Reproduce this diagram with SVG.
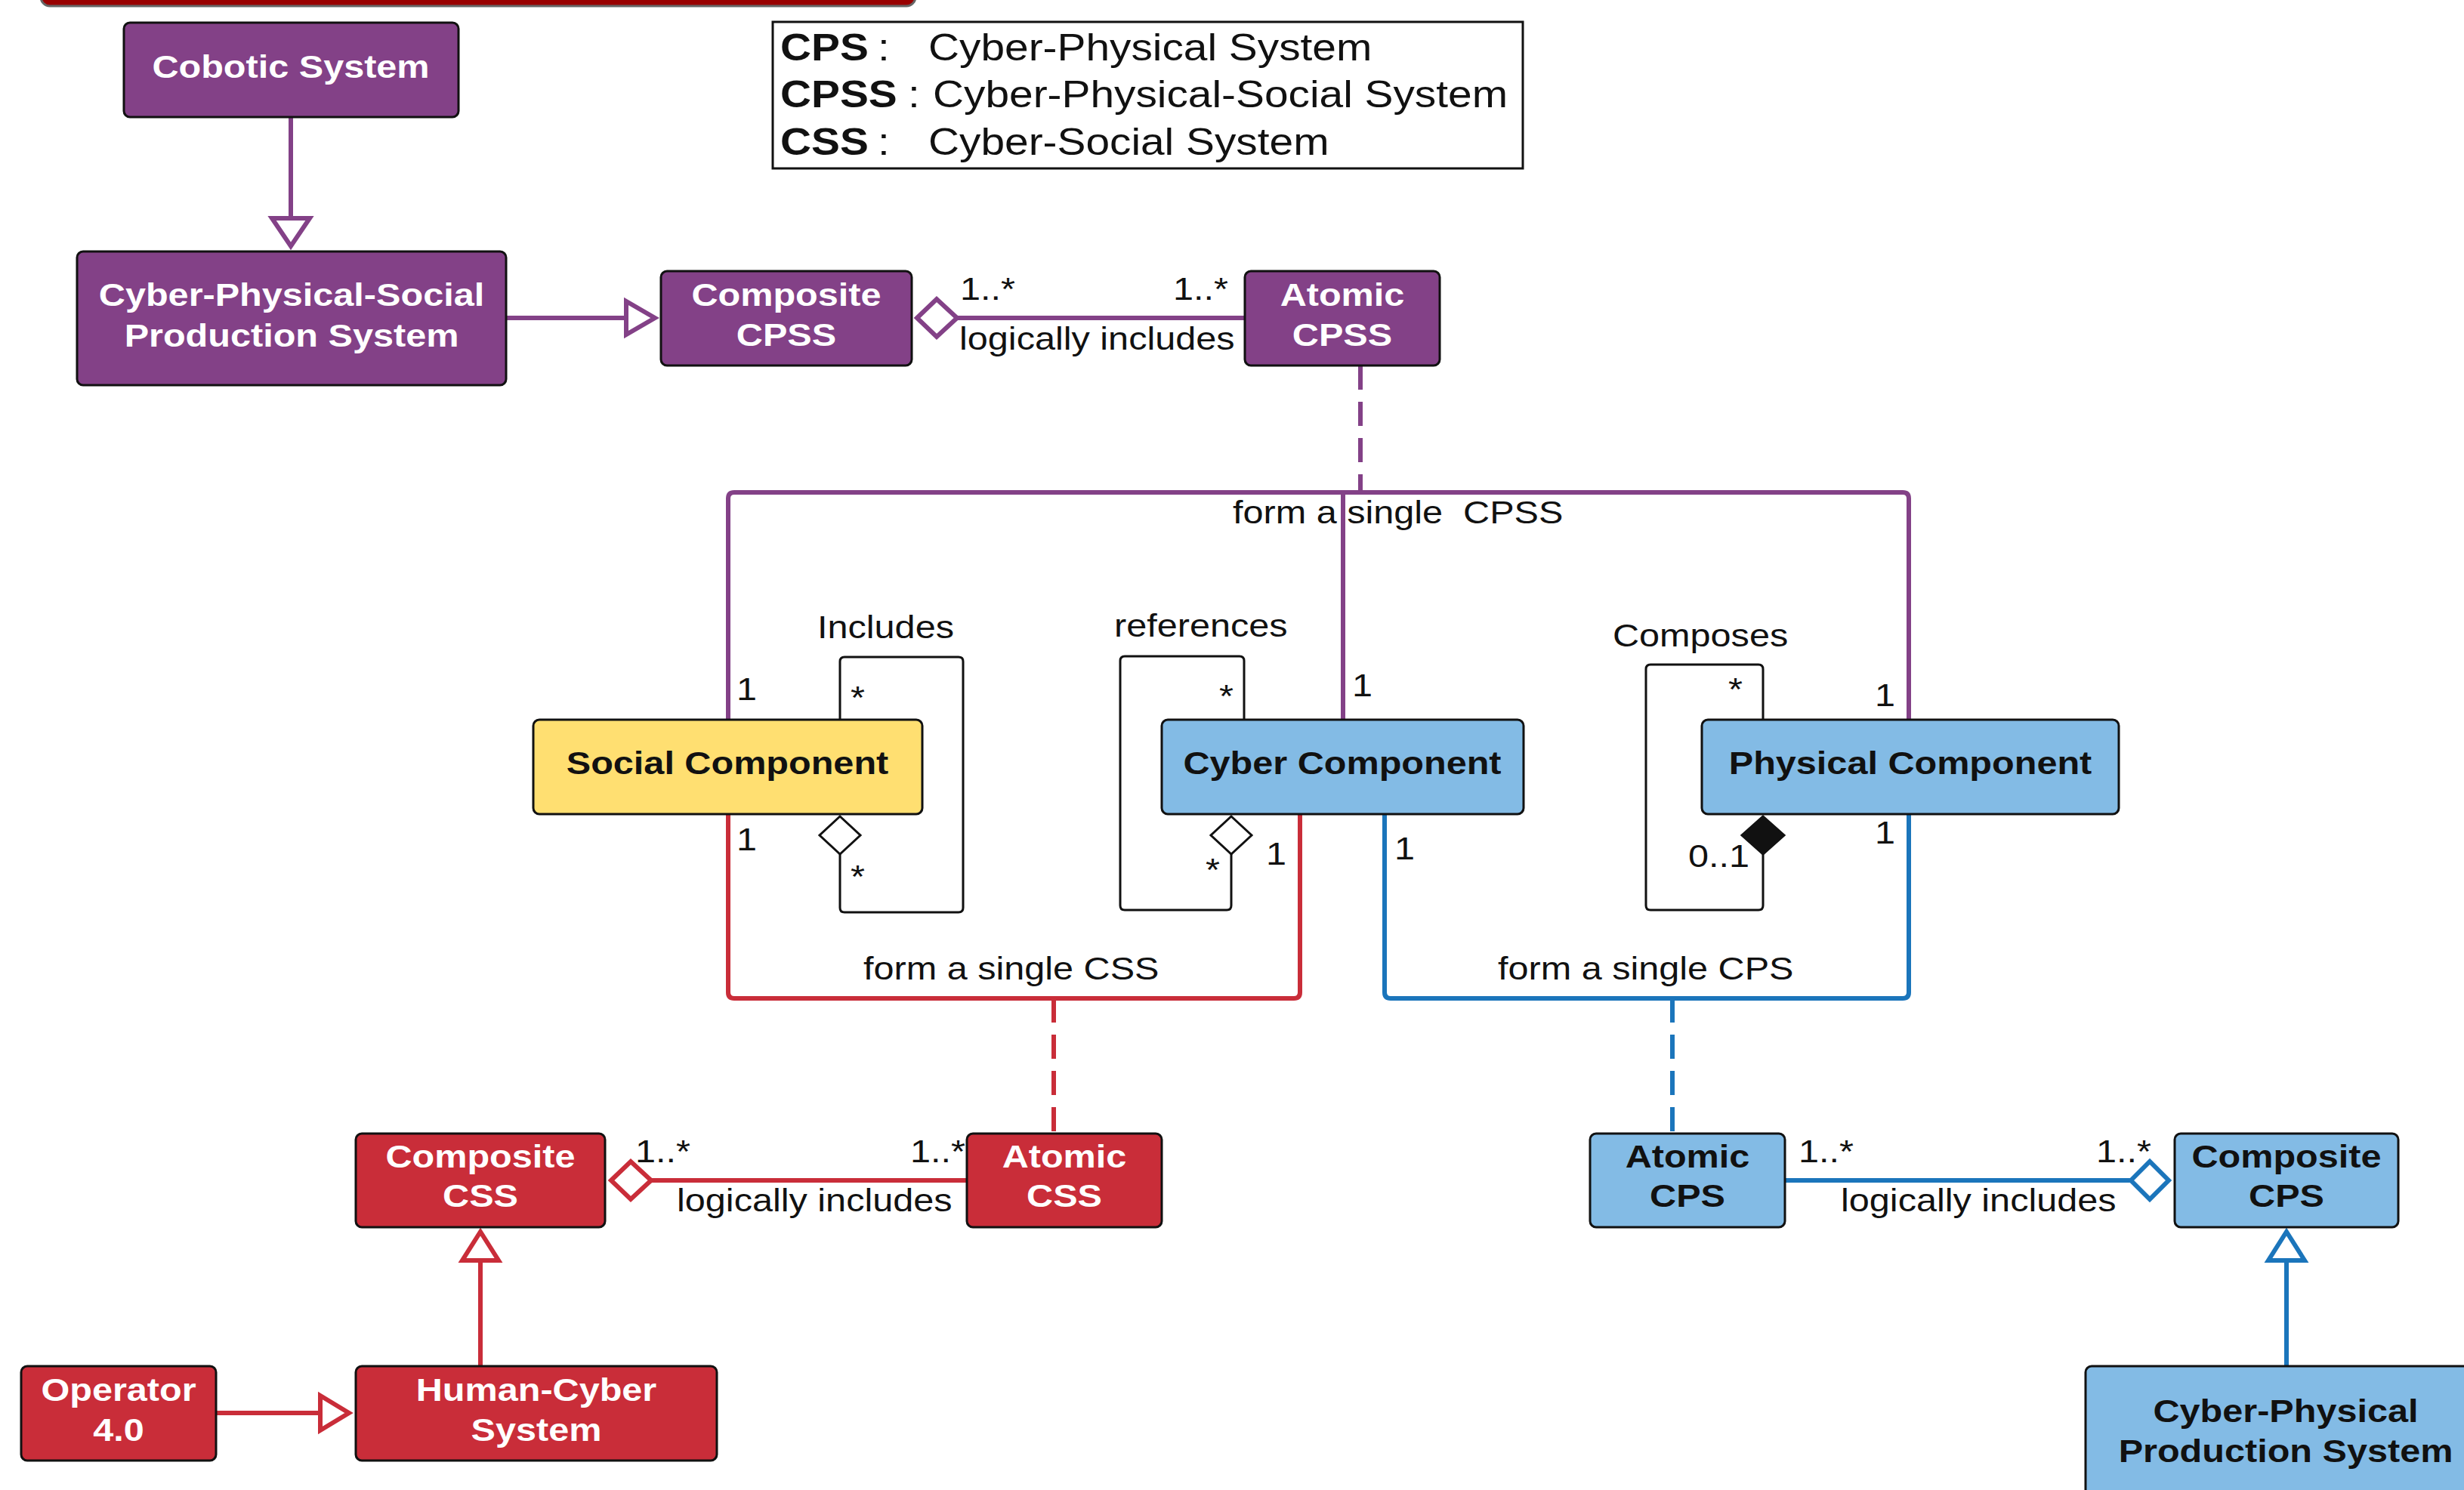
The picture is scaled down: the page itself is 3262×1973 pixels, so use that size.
<svg xmlns="http://www.w3.org/2000/svg" width="3262" height="1973" viewBox="0 0 3262 1973">
<style>
text{font-family:"Liberation Sans",Arial,sans-serif;font-size:42px;fill:#111}
.b{font-weight:bold;text-anchor:middle}
.w{fill:#fff}
.lg{font-size:49px}
.box{stroke:#111;stroke-width:3}
.pu{fill:#834187}
.rd{fill:#C92D39}
.bl{fill:#83BBE5}
.ye{fill:#FFDF71}
.lp{stroke:#834187;stroke-width:6;fill:none}
.lr{stroke:#C92D39;stroke-width:6;fill:none}
.lb{stroke:#1B75BB;stroke-width:6;fill:none}
.hp{stroke:#834187;stroke-width:6;fill:#fff}
.hr{stroke:#C92D39;stroke-width:6;fill:#fff}
.hb{stroke:#1B75BB;stroke-width:6;fill:#fff}
.dash{stroke-dasharray:32 16}
.loop{stroke:#111;stroke-width:3;fill:none}
.dw{stroke:#111;stroke-width:3;fill:#fff}
.dk{stroke:#111;stroke-width:3;fill:#111}
</style>
<rect x="0" y="0" width="3262" height="1973" fill="#fff"/>
<rect id="topbar" x="54" y="-40" width="1158" height="48" rx="12" fill="#990000" stroke="#666" stroke-width="3"/>

<g id="legend">
<rect x="1023" y="29" width="993" height="194" fill="#fff" stroke="#111" stroke-width="3"/>
<text class="lg" font-weight="bold" transform="translate(1033,80) scale(1.16,1)">CPS</text>
<text class="lg" transform="translate(1162,80) scale(1.16,1)">:</text>
<text class="lg" transform="translate(1229,80) scale(1.16,1)">Cyber-Physical System</text>
<text class="lg" font-weight="bold" transform="translate(1033,142) scale(1.16,1)">CPSS</text>
<text class="lg" transform="translate(1202,142) scale(1.16,1)">:</text>
<text class="lg" transform="translate(1235,142) scale(1.16,1)">Cyber-Physical-Social System</text>
<text class="lg" font-weight="bold" transform="translate(1033,205) scale(1.16,1)">CSS</text>
<text class="lg" transform="translate(1162,205) scale(1.16,1)">:</text>
<text class="lg" transform="translate(1229,205) scale(1.16,1)">Cyber-Social System</text>
</g>

<g id="connectors">
<line class="lp" x1="385" y1="155" x2="385" y2="289"/>
<polygon class="hp" points="360,289 410,289 385,326"/>
<line class="lp" x1="670" y1="421" x2="829" y2="421"/>
<polygon class="hp" points="829,399 829,443 867,421"/>
<line class="lp" x1="1267" y1="421" x2="1648" y2="421"/>
<polygon class="hp" points="1214,421 1240,396 1267,421 1240,446"/>
<line class="lp dash" x1="1801" y1="484" x2="1801" y2="652"/>
<path class="lp" d="M964 953 V660 Q964 652 972 652 H2519 Q2527 652 2527 660 V953"/>
<line class="lp" x1="1778" y1="652" x2="1778" y2="953"/>
<path class="lr" d="M964 1078 V1314 Q964 1322 972 1322 H1713 Q1721 1322 1721 1314 V1078"/>
<line class="lr dash" x1="1395" y1="1322" x2="1395" y2="1501"/>
<path class="lb" d="M1833 1078 V1314 Q1833 1322 1841 1322 H2519 Q2527 1322 2527 1314 V1078"/>
<line class="lb dash" x1="2214" y1="1322" x2="2214" y2="1501"/>
<line class="lr" x1="862" y1="1563" x2="1280" y2="1563"/>
<polygon class="hr" points="809,1563 835,1538 862,1563 835,1588"/>
<line class="lr" x1="636" y1="1809" x2="636" y2="1669"/>
<polygon class="hr" points="612,1669 660,1669 636,1631"/>
<line class="lr" x1="286" y1="1871" x2="424" y2="1871"/>
<polygon class="hr" points="424,1848 424,1894 462,1871"/>
<line class="lb" x1="2363" y1="1563" x2="2821" y2="1563"/>
<polygon class="hb" points="2821,1563 2846,1538 2871,1563 2846,1588"/>
<line class="lb" x1="3027" y1="1809" x2="3027" y2="1669"/>
<polygon class="hb" points="3003,1669 3051,1669 3027,1631"/>
<path class="loop" d="M1112 953 V876 Q1112 870 1118 870 H1269 Q1275 870 1275 876 V1202 Q1275 1208 1269 1208 H1118 Q1112 1208 1112 1202 V1131"/>
<polygon class="dw" points="1112,1081 1139,1106 1112,1131 1085,1106"/>
<path class="loop" d="M1647 953 V875 Q1647 869 1641 869 H1489 Q1483 869 1483 875 V1199 Q1483 1205 1489 1205 H1624 Q1630 1205 1630 1199 V1131"/>
<polygon class="dw" points="1630,1081 1657,1106 1630,1131 1603,1106"/>
<path class="loop" d="M2334 953 V886 Q2334 880 2328 880 H2185 Q2179 880 2179 886 V1199 Q2179 1205 2185 1205 H2328 Q2334 1205 2334 1199 V1131"/>
<polygon class="dk" points="2334,1081 2362,1106 2334,1131 2306,1106"/>
<text transform="translate(1271,397) scale(1.157,1)">1..*</text>
<text transform="translate(1553,397) scale(1.157,1)">1..*</text>
<text transform="translate(1270,463) scale(1.157,1)">logically includes</text>
<text xml:space="preserve" transform="translate(1632,693) scale(1.157,1)">form a single  CPSS</text>
<text transform="translate(1082,845) scale(1.157,1)">Includes</text>
<text transform="translate(1475,843) scale(1.157,1)">references</text>
<text transform="translate(2135,856) scale(1.157,1)">Composes</text>
<text transform="translate(975,927) scale(1.157,1)">1</text>
<text transform="translate(1126,938) scale(1.157,1)">*</text>
<text transform="translate(975,1126) scale(1.157,1)">1</text>
<text transform="translate(1126,1175) scale(1.157,1)">*</text>
<text transform="translate(1614,936) scale(1.157,1)">*</text>
<text transform="translate(1596,1166) scale(1.157,1)">*</text>
<text transform="translate(1676,1145) scale(1.157,1)">1</text>
<text transform="translate(1790,922) scale(1.157,1)">1</text>
<text transform="translate(1846,1138) scale(1.157,1)">1</text>
<text transform="translate(2288,927) scale(1.157,1)">*</text>
<text transform="translate(2235,1148) scale(1.157,1)">0..1</text>
<text transform="translate(2482,935) scale(1.157,1)">1</text>
<text transform="translate(2482,1117) scale(1.157,1)">1</text>
<text transform="translate(1143,1297) scale(1.157,1)">form a single CSS</text>
<text transform="translate(1983,1297) scale(1.157,1)">form a single CPS</text>
<text transform="translate(841,1539) scale(1.157,1)">1..*</text>
<text transform="translate(1205,1539) scale(1.157,1)">1..*</text>
<text transform="translate(896,1604) scale(1.157,1)">logically includes</text>
<text transform="translate(2381,1539) scale(1.157,1)">1..*</text>
<text transform="translate(2775,1539) scale(1.157,1)">1..*</text>
<text transform="translate(2437,1604) scale(1.157,1)">logically includes</text>
</g>

<g id="cobotic-system">
<rect class="box pu" x="164" y="30" width="443" height="125" rx="8"/>
<text class="b w" transform="translate(385,103) scale(1.157,1)">Cobotic System</text>
</g>
<g id="cpsps">
<rect class="box pu" x="102" y="333" width="568" height="177" rx="8"/>
<text class="b w" transform="translate(386,405) scale(1.157,1)">Cyber-Physical-Social</text>
<text class="b w" transform="translate(386,459) scale(1.157,1)">Production System</text>
</g>
<g id="composite-cpss">
<rect class="box pu" x="875" y="359" width="332" height="125" rx="8"/>
<text class="b w" transform="translate(1041,405) scale(1.157,1)">Composite</text>
<text class="b w" transform="translate(1041,458) scale(1.157,1)">CPSS</text>
</g>
<g id="atomic-cpss">
<rect class="box pu" x="1648" y="359" width="258" height="125" rx="8"/>
<text class="b w" transform="translate(1777,405) scale(1.157,1)">Atomic</text>
<text class="b w" transform="translate(1777,458) scale(1.157,1)">CPSS</text>
</g>
<g id="social-component">
<rect class="box ye" x="706" y="953" width="515" height="125" rx="8"/>
<text class="b" transform="translate(963,1025) scale(1.157,1)">Social Component</text>
</g>
<g id="cyber-component">
<rect class="box bl" x="1538" y="953" width="479" height="125" rx="8"/>
<text class="b" transform="translate(1777,1025) scale(1.157,1)">Cyber Component</text>
</g>
<g id="physical-component">
<rect class="box bl" x="2253" y="953" width="552" height="125" rx="8"/>
<text class="b" transform="translate(2529,1025) scale(1.157,1)">Physical Component</text>
</g>
<g id="composite-css">
<rect class="box rd" x="471" y="1501" width="330" height="124" rx="8"/>
<text class="b w" transform="translate(636,1546) scale(1.157,1)">Composite</text>
<text class="b w" transform="translate(636,1598) scale(1.157,1)">CSS</text>
</g>
<g id="atomic-css">
<rect class="box rd" x="1280" y="1501" width="258" height="124" rx="8"/>
<text class="b w" transform="translate(1409,1546) scale(1.157,1)">Atomic</text>
<text class="b w" transform="translate(1409,1598) scale(1.157,1)">CSS</text>
</g>
<g id="human-cyber-system">
<rect class="box rd" x="471" y="1809" width="478" height="125" rx="8"/>
<text class="b w" transform="translate(710,1855) scale(1.157,1)">Human-Cyber</text>
<text class="b w" transform="translate(710,1908) scale(1.157,1)">System</text>
</g>
<g id="operator">
<rect class="box rd" x="28" y="1809" width="258" height="125" rx="8"/>
<text class="b w" transform="translate(157,1855) scale(1.157,1)">Operator</text>
<text class="b w" transform="translate(157,1908) scale(1.157,1)">4.0</text>
</g>
<g id="atomic-cps">
<rect class="box bl" x="2105" y="1501" width="258" height="124" rx="8"/>
<text class="b" transform="translate(2234,1546) scale(1.157,1)">Atomic</text>
<text class="b" transform="translate(2234,1598) scale(1.157,1)">CPS</text>
</g>
<g id="composite-cps">
<rect class="box bl" x="2879" y="1501" width="296" height="124" rx="8"/>
<text class="b" transform="translate(3027,1546) scale(1.157,1)">Composite</text>
<text class="b" transform="translate(3027,1598) scale(1.157,1)">CPS</text>
</g>
<g id="cpps">
<rect class="box bl" x="2761" y="1809" width="532" height="240" rx="8"/>
<text class="b" transform="translate(3026,1883) scale(1.157,1)">Cyber-Physical</text>
<text class="b" transform="translate(3026,1936) scale(1.157,1)">Production System</text>
</g>
</svg>
